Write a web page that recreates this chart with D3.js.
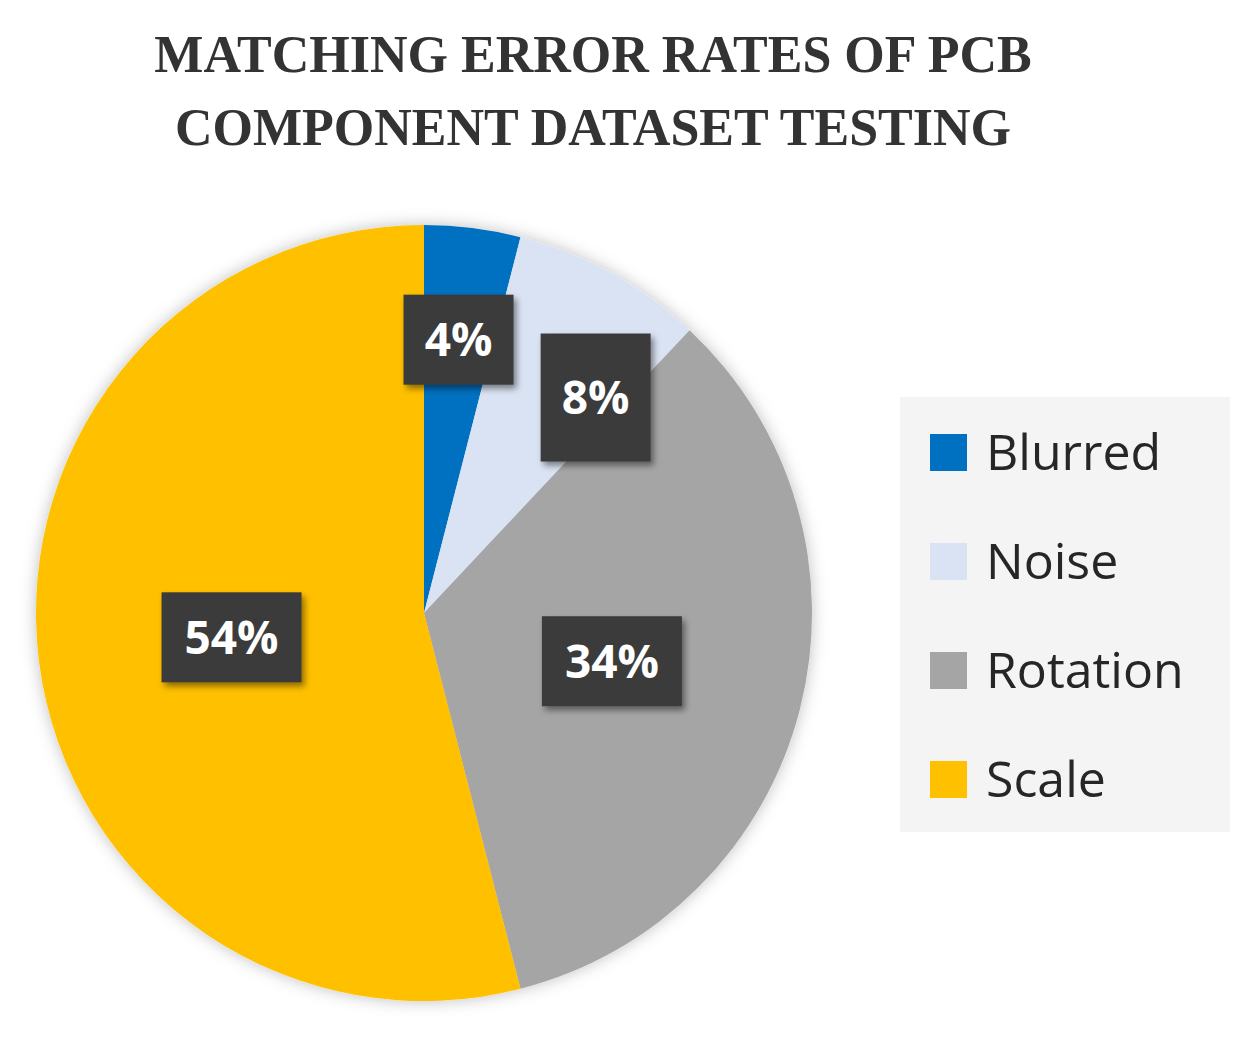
<!DOCTYPE html>
<html><head><meta charset="utf-8">
<script src="https://cdn.jsdelivr.net/npm/d3@7"></script>
<style>body{margin:0;background:#fff}</style>
</head><body>
<svg id="chart" width="1255" height="1052"></svg>
<script>
// Données
const categories = ['Blurred', 'Noise', 'Rotation', 'Scale']
const valeurs = [4, 8, 34, 54]
const couleurs = ['#0070C0', '#DAE3F3', '#A5A5A5', '#FFC000']
const titre = ['MATCHING ERROR RATES OF PCB', 'COMPONENT DATASET TESTING']

const svg = d3.select('#chart')
const cx = 424, cy = 613, rayon = 388

// Ombres
const defs = svg.append('defs')
const ombre = defs.append('filter').attr('id', 'ombre').attr('x', '-20%').attr('y', '-20%').attr('width', '140%').attr('height', '140%')
ombre.append('feDropShadow').attr('dx', 0).attr('dy', 0).attr('stdDeviation', 8).attr('flood-color', '#000').attr('flood-opacity', 0.25)
const ombreBoite = defs.append('filter').attr('id', 'ombreBoite').attr('x', '-30%').attr('y', '-30%').attr('width', '160%').attr('height', '160%')
ombreBoite.append('feDropShadow').attr('dx', 3).attr('dy', 4).attr('stdDeviation', 3).attr('flood-color', '#000').attr('flood-opacity', 0.45)

// Titre
svg.selectAll('text.titre').data(titre).enter().append('text')
    .attr('class', 'titre')
    .attr('x', 593).attr('y', (d, i) => 72 + i * 73)
    .attr('text-anchor', 'middle')
    .style('font-family', '"Liberation Serif", serif')
    .style('font-weight', 'bold')
    .style('font-size', '52px')
    .style('fill', '#333')
    .text(d => d)

// Camembert
const donnees = categories.map((c, i) => ({ nom: c, valeur: valeurs[i], couleur: couleurs[i] }))
const pie = d3.pie().value(d => d.valeur).sort(null)
const arc = d3.arc().innerRadius(0).outerRadius(rayon)
const g = svg.append('g').attr('transform', `translate(${cx},${cy})`)
const parts = pie(donnees)
g.append('g').attr('filter', 'url(#ombre)').selectAll('path').data(parts).enter().append('path')
    .attr('d', arc)
    .attr('fill', d => d.data.couleur)

// Étiquettes : les petites parts vont plus loin du centre
const total = d3.sum(valeurs)
parts.forEach(p => {
    const part = p.data.valeur / total
    const r = part < 0.1 ? rayon * 0.71 : rayon * 0.5
    const angle = (p.startAngle + p.endAngle) / 2 + (part > 0.05 && part < 0.1 ? 0.17 : 0)
    const x = Math.sin(angle) * r, y = -Math.cos(angle) * r
    const texte = p.data.valeur + '%'
    const largeur = texte.length === 2 ? 110 : 140
    const hauteur = part > 0.05 && part < 0.1 ? 128 : 90
    const lg = g.append('g').attr('transform', `translate(${x},${y})`)
    lg.append('rect')
        .attr('x', -largeur / 2).attr('y', -hauteur / 2)
        .attr('width', largeur).attr('height', hauteur)
        .attr('fill', '#3a3a3a')
        .attr('filter', 'url(#ombreBoite)')
    lg.append('text')
        .attr('text-anchor', 'middle').attr('dy', '0.36em')
        .style('font-family', '"Open Sans", sans-serif')
        .style('font-weight', 'bold').style('font-size', '46px')
        .style('fill', '#fff')
        .text(texte)
})

// Légende
const legende = svg.append('g')
legende.append('rect').attr('x', 900).attr('y', 397).attr('width', 330).attr('height', 435).attr('fill', '#f4f4f4')
const items = legende.selectAll('g.item').data(donnees).enter().append('g')
    .attr('transform', (d, i) => `translate(930,${452 + i * 109})`)
items.append('rect').attr('x', 0).attr('y', -18).attr('width', 37).attr('height', 37).attr('fill', d => d.couleur)
items.append('text').attr('x', 56).attr('dy', '0.36em')
    .style('font-family', '"Open Sans", sans-serif').style('font-size', '50px').style('fill', '#262626')
    .text(d => d.nom)
</script>
</body></html>
